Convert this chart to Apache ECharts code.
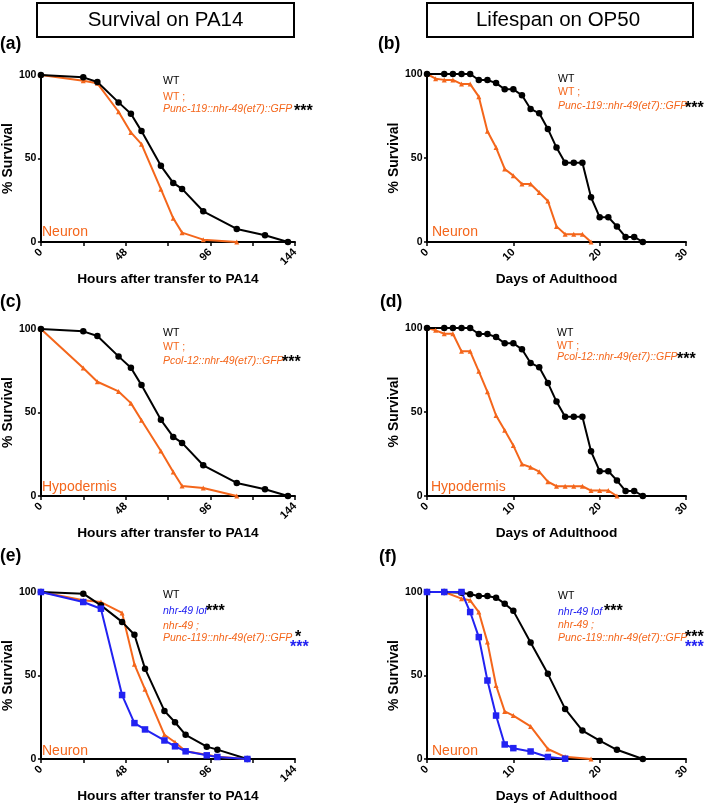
<!DOCTYPE html>
<html>
<head>
<meta charset="utf-8">
<script src="https://cdn.jsdelivr.net/npm/echarts@6/dist/echarts.min.js"></script>
<style>
html,body{margin:0;padding:0;background:#fff;}
#chart{width:709px;height:804px;}
</style>
</head>
<body>
<div id="chart"></div>
<script>
// ---------------- data ----------------
// Panel (a)/(c): survival on PA14 (hours)
const wtHours = [0, 24, 32, 44, 51, 57, 68, 75, 80, 92, 111, 127, 140];
const wtPA14 = [100, 98.6, 95.8, 83.6, 76.8, 66.4, 45.6, 35.4, 31.8, 18.4, 7.8, 4, 0];
const tgHours = [0, 24, 32, 44, 51, 57, 68, 75, 80, 92, 111];
const neuronPA14 = [100, 96.5, 95, 78, 65.6, 58.6, 31.6, 14.2, 5.6, 1.4, 0];
const hypoPA14 = [100, 76.6, 68.4, 62.6, 55.6, 45.4, 27, 14.4, 6, 4.8, 0];

// Panel (b)/(d): lifespan on OP50 (days)
const wtDays = [0, 2, 3, 4, 5, 6, 7, 8, 9, 10, 11, 12, 13, 14, 15, 16, 17, 18, 19, 20, 21, 22, 23, 24, 25];
const wtOP50 = [100, 100, 100, 100, 100, 96.4, 96.4, 94.6, 90.9, 90.9, 87.3, 79.2, 76.6, 67.3, 56.2, 47.2, 47.2, 47.2, 26.6, 14.8, 14.8, 9.2, 3, 3, 0];
const neuronDays = [0, 1, 2, 3, 4, 5, 6, 7, 8, 9, 10, 11, 12, 13, 14, 15, 16, 17, 18, 19];
const neuronOP50 = [100, 97.2, 96.5, 96.5, 94, 94, 86.5, 65.9, 56.2, 43.5, 39.5, 34.5, 34.5, 29.5, 24.4, 9.3, 4.6, 4.6, 4.6, 0];
const hypoDays = [0, 1, 2, 3, 4, 5, 6, 7, 8, 9, 10, 11, 12, 13, 14, 15, 16, 17, 18, 19, 20, 21, 22];
const hypoOP50 = [100, 98.6, 96.6, 96.6, 86.1, 86.1, 74.2, 62, 47.9, 39.2, 30, 19, 17.1, 14.5, 8.5, 5.8, 5.8, 5.8, 5.8, 3.2, 3.2, 3.2, 0];

// Panel (e): PA14, nhr-49 background
const eHours = [0, 24, 34, 46, 53, 59, 70, 76, 82, 94, 100, 117];
const wtE = [100, 99, 92, 82.1, 74.4, 54.1, 28.8, 22, 14.5, 7.4, 5.6, 0];
const lofE = [100, 94, 90, 38.3, 21.5, 17.7, 11.1, 7.6, 4.6, 2.2, 1.2, 0];
const rescueE = [100, 95, 94, 87.5, 56.7, 41.7, 14.5, 10, 4.6, 2.6, 1.4, 0];

// Panel (f): OP50, nhr-49 background
const fWtDays = [0, 2, 4, 5, 6, 7, 8, 9, 10, 12, 14, 16, 18, 20, 22, 25];
const wtF = [100, 100, 99.6, 98.6, 97.6, 97.6, 96.6, 93, 88.7, 69.8, 51, 30, 17, 11, 5.5, 0];
const fLofDays = [0, 2, 4, 5, 6, 7, 8, 9, 10, 12, 14, 16];
const lofF = [100, 100, 100, 88, 73, 47, 26, 8.7, 6.5, 4.5, 1.2, 0.2];
const fRescueDays = [0, 2, 4, 5, 6, 7, 8, 9, 10, 12, 14, 16, 19];
const rescueF = [100, 100, 96, 95, 88, 70, 44, 28.5, 26, 19.5, 6, 1.3, 0];

// axis ticks
const hourTicks = {min: 0, max: 144, step: 24, labelEvery: 48};
const dayTicks = {min: 0, max: 30, step: 10};
const survTicks = {min: 0, max: 100, step: 50};

// ---------------- styling ----------------
const FONT = 'Liberation Sans, Arial, Helvetica, sans-serif';
const BLACK = '#000000';
const ORANGE = '#F4661B';
const BLUE = '#2222F2';

const grids = [
  {left: 38, top: 75, width: 257, height: 167},
  {left: 427, top: 74, width: 259, height: 168},
  {left: 38, top: 329, width: 257, height: 167},
  {left: 427, top: 328, width: 259, height: 168},
  {left: 38, top: 592, width: 257, height: 168},
  {left: 427, top: 592, width: 259, height: 168}
];

function xAxisFor(i, hours) {
  const t = hours ? hourTicks : dayTicks;
  return {
    type: 'value', gridIndex: i, min: t.min, max: t.max, interval: t.step,
    name: hours ? 'Hours after transfer to PA14' : 'Days of Adulthood',
    nameLocation: 'middle', nameGap: 30,
    nameTextStyle: {fontFamily: FONT, fontWeight: 'bold', fontSize: 13.7, color: BLACK},
    axisLine: {show: true, lineStyle: {color: BLACK, width: 2}},
    axisTick: {show: true, length: 4, lineStyle: {color: BLACK, width: 1.5}},
    splitLine: {show: false},
    axisLabel: {
      rotate: 45, margin: 8.5, fontFamily: FONT, fontWeight: 'bold', fontSize: 11, color: BLACK,
      formatter: function (v) { return hours ? (v % t.labelEvery === 0 ? String(v) : '') : String(v); }
    }
  };
}
function yAxisFor(i) {
  return {
    type: 'value', gridIndex: i, min: survTicks.min, max: survTicks.max, interval: survTicks.step,
    name: '% Survival', nameLocation: 'middle', nameGap: 24,
    nameTextStyle: {fontFamily: FONT, fontWeight: 'bold', fontSize: 14, color: BLACK},
    axisLine: {show: true, lineStyle: {color: BLACK, width: 2}},
    axisTick: {show: true, length: 3, lineStyle: {color: BLACK, width: 1.5}},
    splitLine: {show: false},
    axisLabel: {margin: 4.5, fontFamily: FONT, fontWeight: 'bold', fontSize: 10.5, color: BLACK}
  };
}

function line(idx, xs, ys, color, symbol, size) {
  return {
    type: 'line', xAxisIndex: idx, yAxisIndex: idx,
    data: xs.map(function (x, i) { return [x, ys[i]]; }),
    symbol: symbol, symbolSize: size, showSymbol: true,
    lineStyle: {color: color, width: 2}, itemStyle: {color: color},
    animation: false, silent: true
  };
}

const series = [
  line(0, tgHours, neuronPA14, ORANGE, 'triangle', 5),
  line(0, wtHours, wtPA14, BLACK, 'circle', 6.5),
  line(1, neuronDays, neuronOP50, ORANGE, 'triangle', 5),
  line(1, wtDays, wtOP50, BLACK, 'circle', 6.5),
  line(2, tgHours, hypoPA14, ORANGE, 'triangle', 5),
  line(2, wtHours, wtPA14, BLACK, 'circle', 6.5),
  line(3, hypoDays, hypoOP50, ORANGE, 'triangle', 5),
  line(3, wtDays, wtOP50, BLACK, 'circle', 6.5),
  line(4, eHours, rescueE, ORANGE, 'triangle', 5),
  line(4, eHours, wtE, BLACK, 'circle', 6.5),
  line(4, eHours, lofE, BLUE, 'rect', 6.5),
  line(5, fRescueDays, rescueF, ORANGE, 'triangle', 5),
  line(5, fWtDays, wtF, BLACK, 'circle', 6.5),
  line(5, fLofDays, lofF, BLUE, 'rect', 6.5)
];

// ---------------- text / decorations ----------------
function txt(x, y, s, o) {
  o = o || {};
  return {
    type: 'text', x: x, y: y, silent: true, z: 100,
    style: {
      text: s, fill: o.color || BLACK,
      font: (o.italic ? 'italic ' : '') + (o.bold ? 'bold ' : '') + (o.size || 10.5) + 'px ' + FONT,
      textAlign: o.align || 'left', textVerticalAlign: 'middle'
    }
  };
}
function box(x, y, w, h) {
  return {type: 'rect', shape: {x: x, y: y, width: w, height: h}, silent: true,
    style: {fill: 'none', stroke: BLACK, lineWidth: 2}};
}
const L = 10.5, S = 16;
const graphics = [
  box(37, 3, 257, 34), txt(165.5, 20.5, 'Survival on PA14', {size: 20.5, align: 'center'}),
  box(427, 3, 266, 34), txt(558, 20.5, 'Lifespan on OP50', {size: 20.5, align: 'center'}),
  txt(0, 44, '(a)', {bold: true, size: 17.5}),
  txt(378, 44, '(b)', {bold: true, size: 17.5}),
  txt(0, 302, '(c)', {bold: true, size: 17.5}),
  txt(380, 302, '(d)', {bold: true, size: 17.5}),
  txt(0, 556, '(e)', {bold: true, size: 17.5}),
  txt(379, 557, '(f)', {bold: true, size: 17.5}),
  // (a)
  txt(163, 81, 'WT', {size: L}),
  txt(163, 96.7, 'WT ;', {size: L, color: ORANGE}),
  txt(163, 109, 'Punc-119::nhr-49(et7)::GFP', {size: L, color: ORANGE, italic: true}),
  txt(294, 112, '***', {size: S, bold: true}),
  txt(42, 232, 'Neuron', {size: 14, color: ORANGE}),
  // (b)
  txt(558, 79.5, 'WT', {size: L}),
  txt(558, 92, 'WT ;', {size: L, color: ORANGE}),
  txt(558, 106, 'Punc-119::nhr-49(et7)::GFP', {size: L, color: ORANGE, italic: true}),
  txt(685, 109, '***', {size: S, bold: true}),
  txt(432, 232, 'Neuron', {size: 14, color: ORANGE}),
  // (c)
  txt(163, 333, 'WT', {size: L}),
  txt(163, 347.5, 'WT ;', {size: L, color: ORANGE}),
  txt(163, 361, 'Pcol-12::nhr-49(et7)::GFP', {size: L, color: ORANGE, italic: true}),
  txt(282, 363, '***', {size: S, bold: true}),
  txt(42, 487, 'Hypodermis', {size: 14, color: ORANGE}),
  // (d)
  txt(557, 333, 'WT', {size: L}),
  txt(557, 346, 'WT ;', {size: L, color: ORANGE}),
  txt(557, 357.5, 'Pcol-12::nhr-49(et7)::GFP', {size: L, color: ORANGE, italic: true}),
  txt(677, 360, '***', {size: S, bold: true}),
  txt(431, 487, 'Hypodermis', {size: 14, color: ORANGE}),
  // (e)
  txt(163, 595, 'WT', {size: L}),
  txt(163, 611, 'nhr-49 lof', {size: L, color: BLUE, italic: true}),
  txt(206, 612, '***', {size: S, bold: true}),
  txt(163, 625.7, 'nhr-49 ;', {size: L, color: ORANGE, italic: true}),
  txt(163, 638.3, 'Punc-119::nhr-49(et7)::GFP', {size: L, color: ORANGE, italic: true}),
  txt(295, 638, '*', {size: S, bold: true}),
  txt(290, 648, '***', {size: S, bold: true, color: BLUE}),
  txt(42, 751, 'Neuron', {size: 14, color: ORANGE}),
  // (f)
  txt(558, 596, 'WT', {size: L}),
  txt(558, 611.7, 'nhr-49 lof', {size: L, color: BLUE, italic: true}),
  txt(604, 612, '***', {size: S, bold: true}),
  txt(558, 625, 'nhr-49 ;', {size: L, color: ORANGE, italic: true}),
  txt(558, 638.3, 'Punc-119::nhr-49(et7)::GFP', {size: L, color: ORANGE, italic: true}),
  txt(685, 638, '***', {size: S, bold: true}),
  txt(685, 648, '***', {size: S, bold: true, color: BLUE}),
  txt(432, 751, 'Neuron', {size: 14, color: ORANGE})
];

const chart = echarts.init(document.getElementById('chart'), null, {renderer: 'canvas'});
chart.setOption({
  animation: false,
  backgroundColor: '#ffffff',
  textStyle: {fontFamily: FONT},
  grid: grids,
  xAxis: [xAxisFor(0, true), xAxisFor(1, false), xAxisFor(2, true), xAxisFor(3, false), xAxisFor(4, true), xAxisFor(5, false)],
  yAxis: [0, 1, 2, 3, 4, 5].map(yAxisFor),
  series: series,
  graphic: graphics
});
</script>
</body>
</html>
